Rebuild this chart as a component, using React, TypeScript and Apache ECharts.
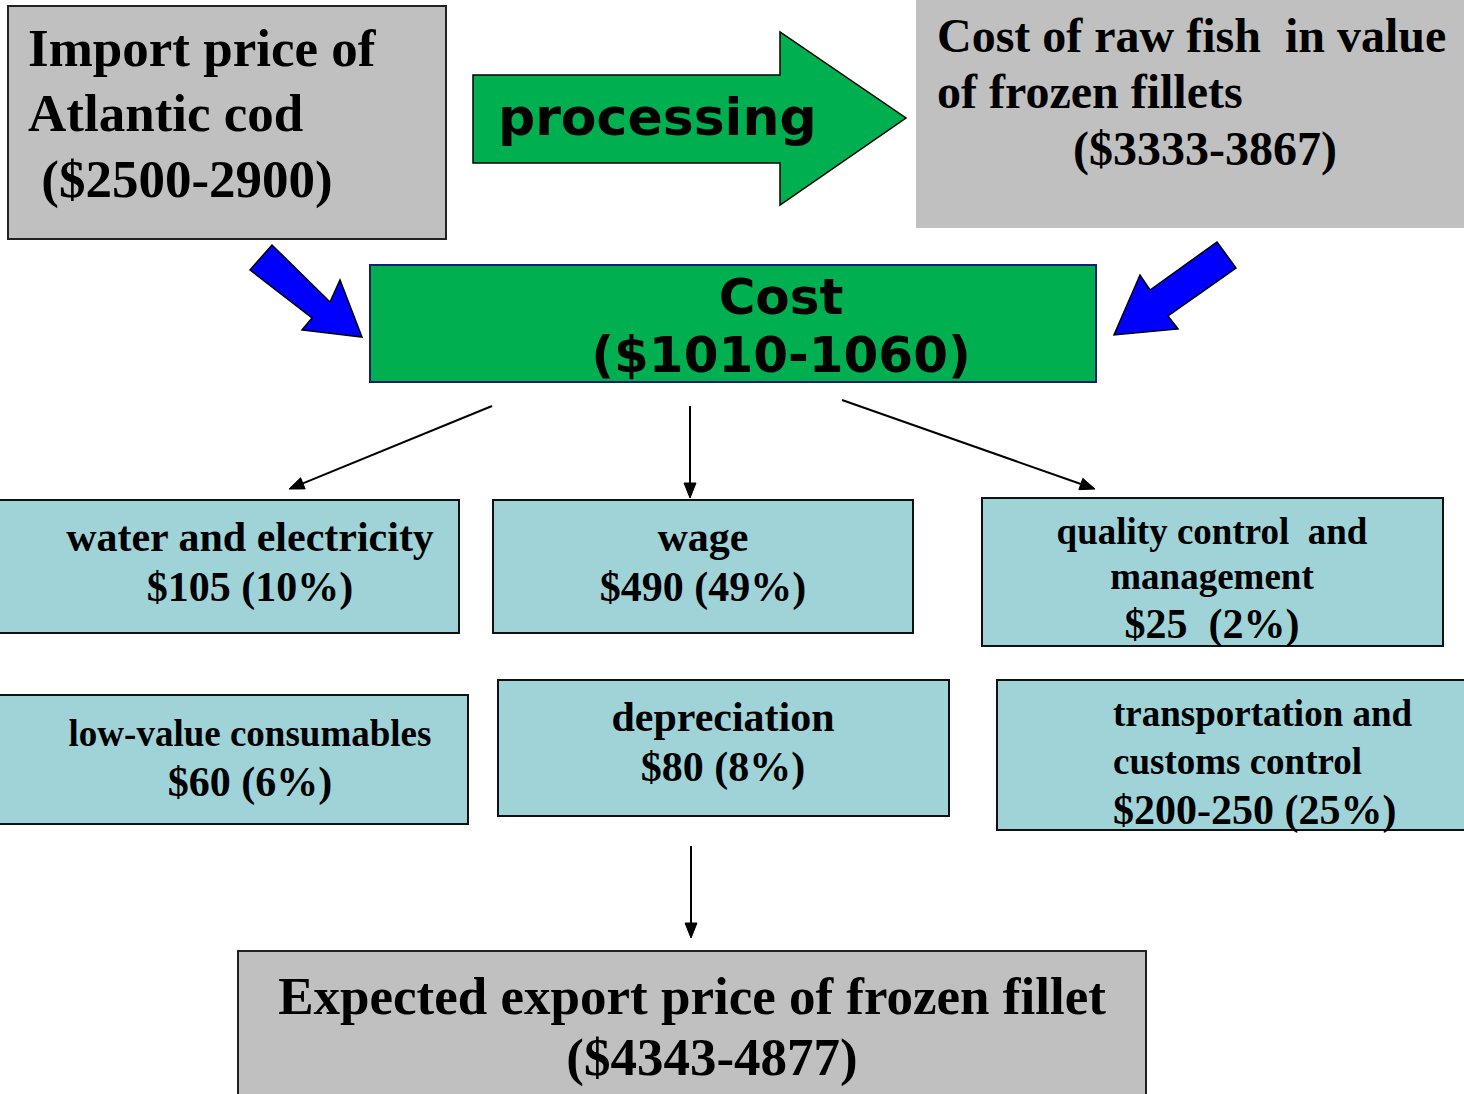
import React, { useEffect, useRef } from "react";
import * as echarts from "echarts";

// ---- Data (texts of the diagram) ----
const importLines = ["Import price of", "Atlantic cod", " ($2500-2900)"];
const rawFishLines = ["Cost of raw fish  in value", "of frozen fillets", "($3333-3867)"];
const processLabel = "processing";
const costLines = ["Cost", "($1010-1060)"];
const componentNames = [
  ["water and electricity"],
  ["wage"],
  ["quality control  and", "management"],
  ["low-value consumables"],
  ["depreciation"],
  ["transportation and", "customs control"],
];
const componentValues = ["$105 (10%)", "$490 (49%)", "$25  (2%)", "$60 (6%)", "$80 (8%)", "$200-250 (25%)"];
const exportLines = ["Expected export price of frozen fillet", "($4343-4877)"];

// ---- Styles ----
const SERIF = '"Liberation Serif", "Times New Roman", serif';
const SANS = '"DejaVu Sans", Verdana, sans-serif';
const GRAY = "#C0C0C0";
const GREEN = "#00B050";
const LIGHTBLUE = "#A0D3D7";
const BLUE = "#0000FF";

function txt(str: string, x: number, baseline: number, size: number, family: string, align: string = "left", sx: number = 1) {
  return {
    type: "text",
    x,
    y: baseline - 0.34 * size,
    scaleX: sx,
    originX: 0,
    style: {
      text: str,
      font: `bold ${size}px ${family}`,
      fill: "#000",
      align,
      verticalAlign: "middle",
    },
    z: 10,
  };
}

function rect(x: number, y: number, w: number, h: number, fill: string, stroke: string | null, lw = 2) {
  return {
    type: "rect",
    shape: { x, y, width: w, height: h },
    style: { fill, stroke: stroke || "none", lineWidth: stroke ? lw : 0 },
    z: 1,
  };
}

function thinArrow(x1: number, y1: number, x2: number, y2: number) {
  const dx = x2 - x1, dy = y2 - y1;
  const L = Math.sqrt(dx * dx + dy * dy);
  const ux = dx / L, uy = dy / L;
  const hl = 15, hw = 6;
  const bx = x2 - ux * hl, by = y2 - uy * hl;
  return [
    { type: "line", shape: { x1, y1, x2: bx, y2: by }, style: { stroke: "#000", lineWidth: 2 }, z: 5 },
    {
      type: "polygon",
      shape: { points: [[x2, y2], [bx - uy * hw, by + ux * hw], [bx + uy * hw, by - ux * hw]] },
      style: { fill: "#000", stroke: "#000", lineWidth: 1 },
      z: 5,
    },
  ];
}

// box layout: [x, y, w, h]
const compBoxes = [
  [-2, 500, 461, 133],
  [493, 500, 420, 133],
  [982, 498, 461, 148],
  [-2, 695, 470, 129],
  [498, 680, 451, 136],
  [997, 680, 470, 150],
];

export default function App() {
  const ref = useRef<HTMLDivElement>(null);
  useEffect(() => {
    if (!ref.current) return;
    const chart = echarts.init(ref.current, null, { renderer: "svg" });
    const els: any[] = [];

    // top-left import box
    els.push(rect(8, 6, 438, 233, GRAY, "#222"));
    els.push(txt(importLines[0], 28, 66, 53, SERIF));
    els.push(txt(importLines[1], 28, 131, 53, SERIF));
    els.push(txt(importLines[2], 28, 197, 53, SERIF));

    // processing arrow
    els.push({
      type: "polygon",
      shape: { points: [[473, 75], [780, 75], [780, 32], [906, 118], [780, 205], [780, 163], [473, 163]] },
      style: { fill: GREEN, stroke: "#000", lineWidth: 1.5 },
      z: 2,
    });
    els.push(txt(processLabel, 498, 135, 52, SANS));

    // raw fish box
    els.push(rect(916, 0, 548, 228, GRAY, null));
    els.push(txt(rawFishLines[0], 937, 52, 48, SERIF));
    els.push(txt(rawFishLines[1], 937, 108, 48, SERIF));
    els.push(txt(rawFishLines[2], 1205, 165, 48, SERIF, "center"));

    // blue arrows
    els.push({
      type: "polygon",
      shape: { points: [[250, 270], [272, 245], [330, 302], [340, 280], [362, 337], [302, 330], [312, 318]] },
      style: { fill: BLUE, stroke: "#000", lineWidth: 1.5 },
      z: 3,
    });
    els.push({
      type: "polygon",
      shape: { points: [[1217, 242], [1236, 268], [1168, 316], [1178, 329], [1114, 335], [1140, 275], [1150, 290]] },
      style: { fill: BLUE, stroke: "#000", lineWidth: 1.5 },
      z: 3,
    });

    // cost box
    els.push(rect(370, 265, 726, 117, GREEN, "#16206A"));
    els.push(txt(costLines[0], 781, 314, 50, SANS, "center"));
    els.push(txt(costLines[1], 781, 372, 50, SANS, "center"));

    // thin arrows
    els.push(...thinArrow(492, 406, 289, 489));
    els.push(...thinArrow(690, 406, 690, 498));
    els.push(...thinArrow(842, 400, 1095, 489));
    els.push(...thinArrow(691, 846, 691, 938));

    // component boxes
    const nameSizes = [42, 42, 37, 37, 42, 37];
    const valueSizes = [42, 42, 42, 42, 42, 42];
    const nameBaselines = [[551], [551], [544, 589], [746], [731], [726, 774]];
    const valueBaselines = [601, 601, 638, 796, 781, 824];
    const centers = [250, 703, 1212, 250, 723, 1113];
    compBoxes.forEach((b, i) => {
      els.push(rect(b[0], b[1], b[2], b[3], LIGHTBLUE, "#111"));
      const align = i === 5 ? "left" : "center";
      componentNames[i].forEach((line, j) => {
        els.push(txt(line, centers[i], nameBaselines[i][j], nameSizes[i], SERIF, align));
      });
      els.push(txt(componentValues[i], i === 2 ? 1212 : centers[i], valueBaselines[i], valueSizes[i], SERIF, align));
    });

    // export box
    els.push(rect(238, 951, 908, 160, GRAY, "#222"));
    els.push(txt(exportLines[0], 692, 1014, 53, SERIF, "center"));
    els.push(txt(exportLines[1], 712, 1075, 53, SERIF, "center"));

    chart.setOption({
      animation: false,
      backgroundColor: "#fff",
      graphic: { elements: els },
    });
    return () => chart.dispose();
  }, []);
  return (
    <div
      ref={ref}
      style={{ position: "absolute", left: 0, top: 0, width: 1464, height: 1094, overflow: "hidden" }}
    />
  );
}
